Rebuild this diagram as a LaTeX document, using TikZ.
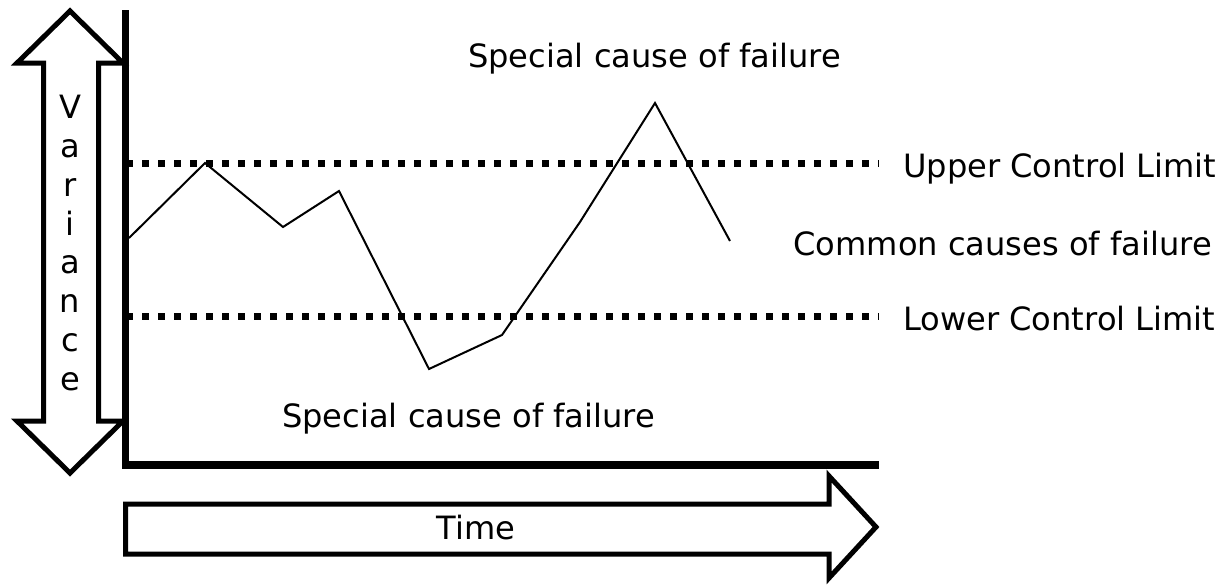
\documentclass[tikz,border=0pt]{standalone}
\usepackage{fontspec}
\setmainfont{DejaVu Sans}
\begin{document}
\begin{tikzpicture}[x=1pt,y=-1pt,
  axisline/.style={line width=7.5pt,line join=miter},
  bigarrow/.style={line width=5pt,line join=miter,fill=white},
  limitline/.style={line width=7pt,dash pattern=on 7pt off 9pt},
  trace/.style={line width=2pt,line join=miter},
  lbl/.style={inner sep=0pt,font=\fontsize{32.1pt}{38pt}\selectfont}]
\useasboundingbox (0,0) rectangle (1222,584);

% Variance double arrow
\draw[bigarrow] (70,11) -- (123,63) -- (98.5,63) -- (98.5,421) -- (123,421)
  -- (70,473) -- (17,421) -- (43.5,421) -- (43.5,63) -- (17,63) -- cycle;
\foreach \ch [count=\i from 0] in {V,a,r,i,a,n,c,e}
  \node[lbl,anchor=base] (var\i) at (70,118.3+38.9*\i) {\ch};

% Time arrow
\draw[bigarrow] (125.5,504) -- (829,504) -- (829,476) -- (876,527) -- (829,578)
  -- (829,554) -- (125.5,554) -- cycle;
\node[lbl,anchor=base] (time) at (476,539) {Time};

% Axes
\draw[axisline] (125.5,10) -- (125.5,465) -- (879,465);

% Control limits
\draw[limitline] (126,163) -- (879,163);
\draw[limitline] (126,316) -- (879,316);

% Measured values
\coordinate (p1) at (129,238);
\coordinate (p2) at (205,163);
\coordinate (p3) at (283,227);
\coordinate (p4) at (339,191);
\coordinate (p5) at (429,369);
\coordinate (p6) at (502,335);
\coordinate (p7) at (580,222);
\coordinate (p8) at (655,103);
\coordinate (p9) at (730,241);
\draw[trace] (p1) -- (p2) -- (p3) -- (p4) -- (p5) -- (p6) -- (p7) -- (p8) -- (p9);

% Labels
\node[lbl,anchor=base west] (spechi) at (468,67) {Special cause of failure};
\node[lbl,anchor=base west] (ucl) at (903,177) {Upper Control Limit};
\node[lbl,anchor=base east] (common) at (1212,255) {Common causes of failure};
\node[lbl,anchor=base west] (lcl) at (903,330) {Lower Control Limit};
\node[lbl,anchor=base west] (speclo) at (282,427) {Special cause of failure};
\end{tikzpicture}
\end{document}
